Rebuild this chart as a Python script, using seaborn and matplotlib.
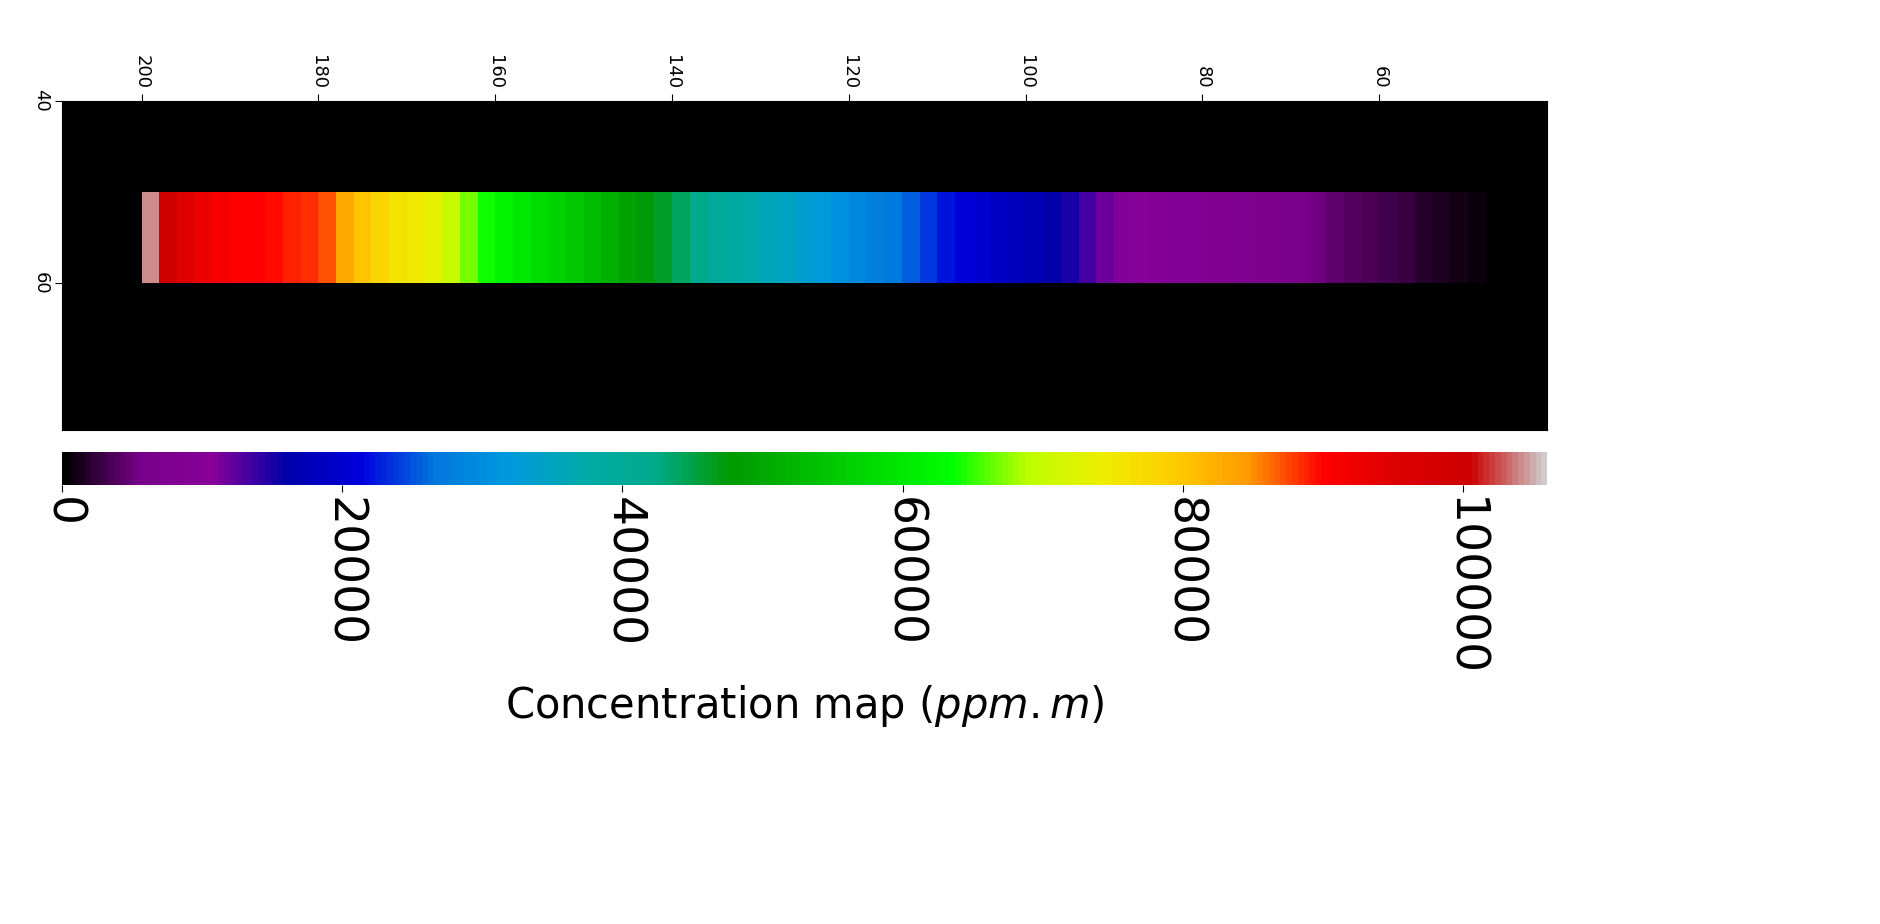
import numpy as np
import matplotlib
matplotlib.use("Agg")
import matplotlib.pyplot as plt
import seaborn as sns

# stripe profile: x positions (every 2 units, 200 -> 50) and concentration (ppm.m)
x_pos = list(range(200, 48, -2))
conc = [104000, 100000, 95000, 93000, 91000, 90000, 90000, 89500, 89000, 88500,
        87000, 83000, 80000, 78000, 76000, 75000, 73000, 70000, 67000, 64000,
        62000, 60000, 58000, 56500, 55000, 53000, 51000, 49000, 47500, 46000,
        44000, 42000, 40000, 38500, 37000, 36000, 35000, 33500, 32000, 30500,
        29000, 28000, 27000, 25500, 24000, 22000, 21000, 20000, 19000, 18000,
        17000, 16000, 15000, 13500, 12000, 11000, 10500, 10000, 9500, 9000,
        8500, 8000, 7500, 7000, 6500, 6000, 5000, 4500, 4000, 3500,
        3000, 2500, 2000, 1500, 1000, 500]
x_ticks = [200, 180, 160, 140, 120, 100, 80, 60]
y_ticks = [40, 60]
cbar_ticks = [0, 20000, 40000, 60000, 80000, 100000]

x_left, x_right = 209, 41
y_top, y_bottom = 40, 76
stripe_rows = (50, 60)

ncols = x_left - x_right
nrows = y_bottom - y_top
grid = np.zeros((nrows, ncols))
for xv, cv in zip(x_pos, conc):
    for dx in (0, 1):
        c = x_left - (xv - dx)
        if 0 <= c < ncols:
            grid[stripe_rows[0]-y_top:stripe_rows[1]-y_top, c] = cv

fig = plt.figure(figsize=(18.8, 9.24), dpi=100)
ax = fig.add_axes([0.033, 0.535, 0.79, 0.356])
cax = fig.add_axes([0.033, 0.475, 0.79, 0.036])
sns.heatmap(grid, ax=ax, cmap="nipy_spectral", vmin=0, vmax=106000,
            cbar_ax=cax, cbar_kws={"orientation": "horizontal"})
ax.set_xticks([x_left - v for v in x_ticks])
ax.set_xticklabels([str(v) for v in x_ticks], rotation=-90, fontsize=13)
ax.set_yticks([v - y_top for v in y_ticks])
ax.set_yticklabels([str(v) for v in y_ticks], rotation=-90, fontsize=13, va="center")
ax.xaxis.tick_top()
ax.tick_params(length=5)
for s in ax.spines.values():
    s.set_visible(True)

cb = ax.collections[0].colorbar
cb.set_ticks(cbar_ticks)
cb.set_ticklabels([str(v) for v in cbar_ticks])
cax.tick_params(labelsize=34, labelrotation=-90, length=5)
for t in cax.get_xticklabels():
    t.set_va("top")
cb.outline.set_visible(True)
cb.outline.set_edgecolor("black")
cb.set_label("Concentration map ($ppm.m$)", fontsize=30)
fig.savefig("out.png", dpi=100)
